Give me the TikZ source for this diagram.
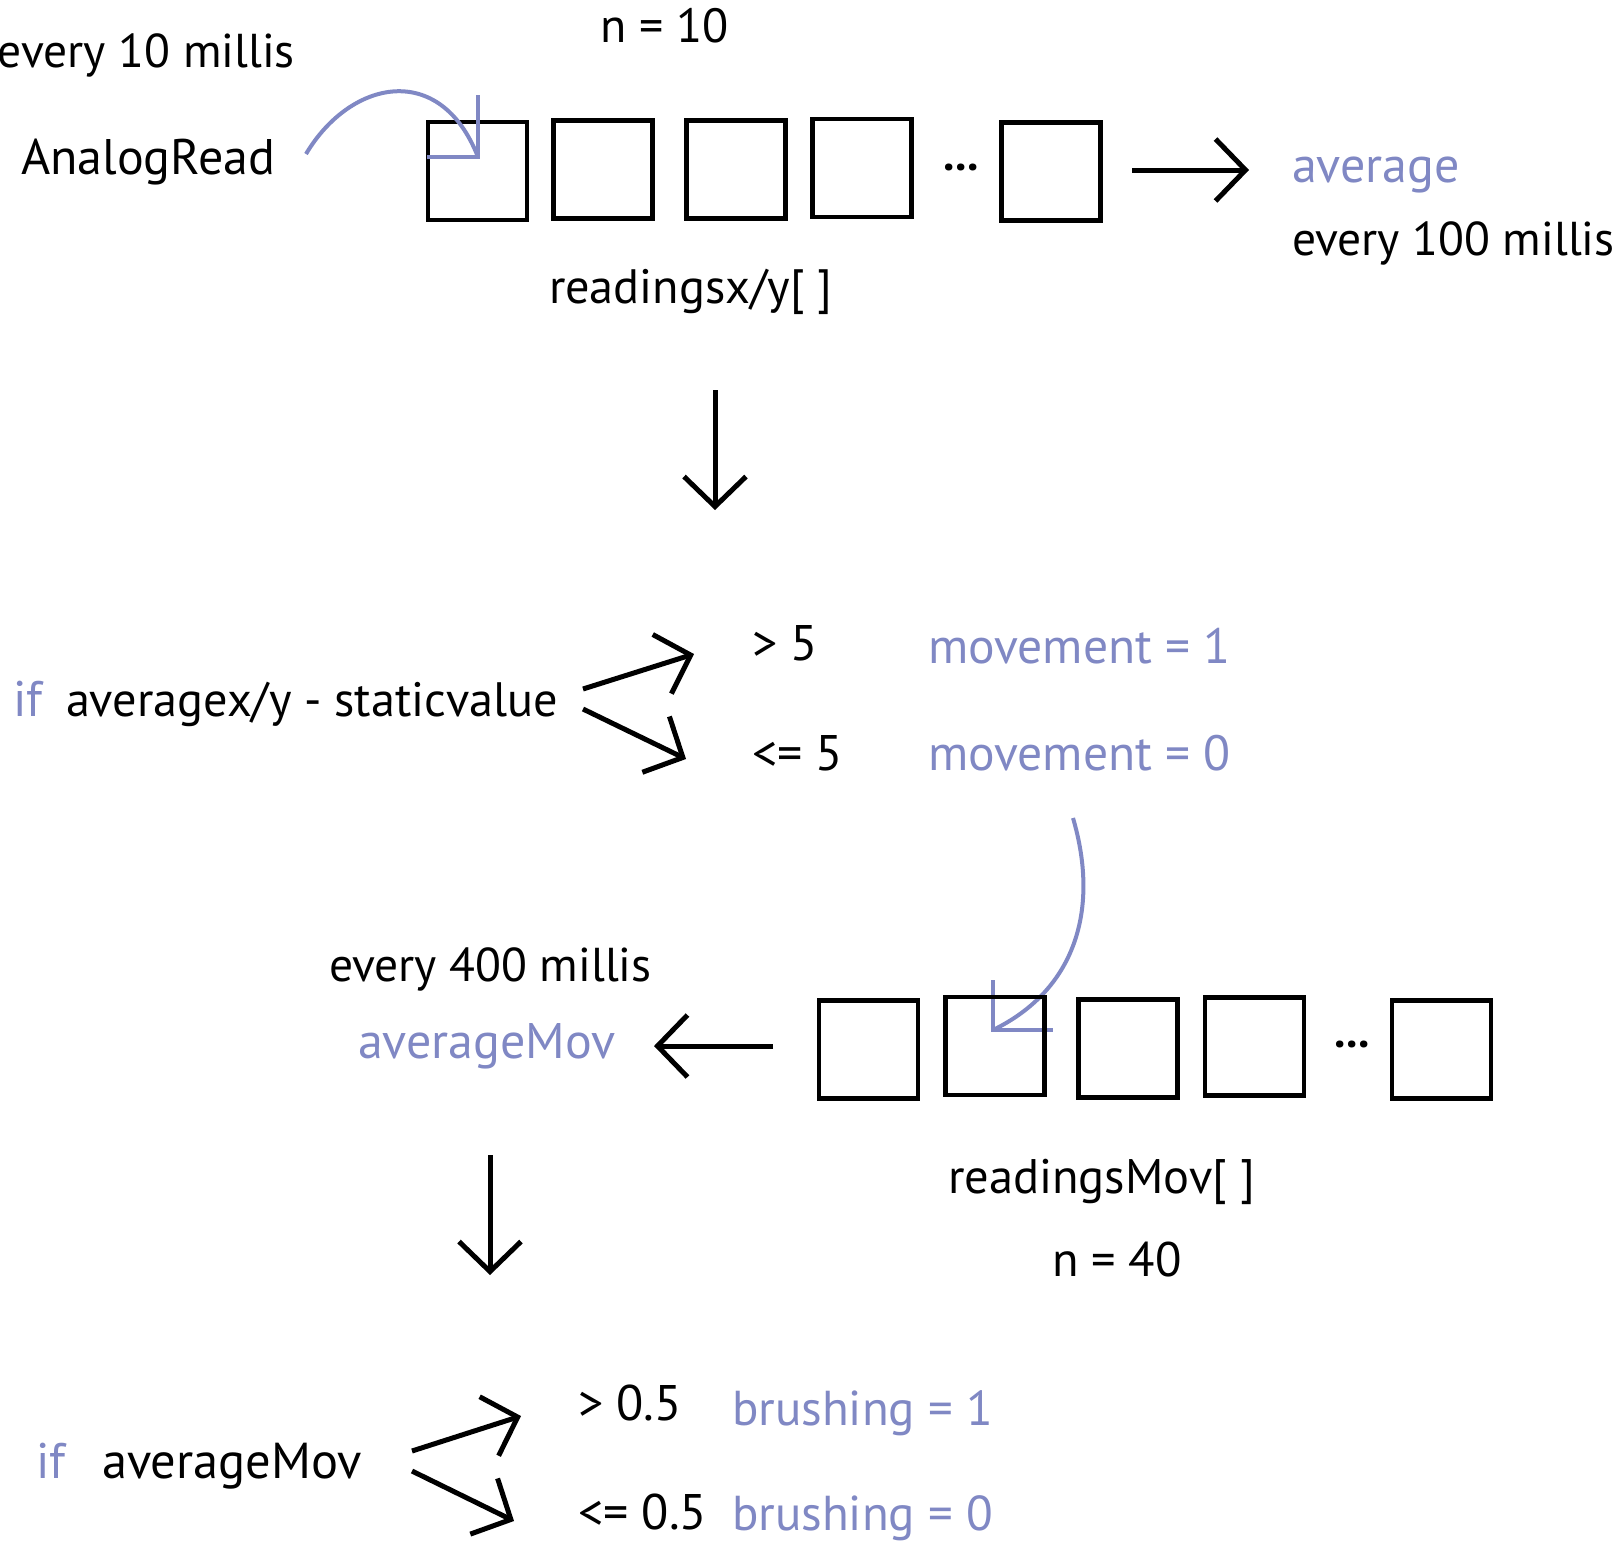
\documentclass[tikz,border=0pt]{standalone}
\usepackage{fontspec}
\setmainfont{PT Sans}
\usetikzlibrary{arrows.meta}
\definecolor{lav}{RGB}{128,136,196}
\begin{document}
\begin{tikzpicture}[x=1pt,y=-1pt,
  lbl/.style={anchor=base west,inner sep=0pt,outer sep=0pt,font=\fontsize{#1}{60}\selectfont},
  lbl/.default=50,
  blbl/.style={lbl=#1,text=lav},
  blbl/.default=50,
  cell/.style={draw,line width=4.5pt,minimum width=99pt,minimum height=98pt,inner sep=0pt},
  dotsnode/.style={inner sep=0pt,font=\fontsize{46}{50}\selectfont\bfseries},
  arr/.style={line width=5pt,-{Straight Barb[length=30pt,width=62pt]}},
  barr/.style={draw=lav,line width=4pt}
]
\fill[white] (0,0) rectangle (1613,1545);
\useasboundingbox (0,0) rectangle (1613,1545);

% ---- top row ----
\node[lbl=47.5] (every10) at (-2,67) {every 10 millis};
\node[lbl=48] (n10) at (600,42) {n = 10};
\node[lbl] (analog) at (21,174) {AnalogRead};
\node[lbl=48.3] (rxy) at (549,303) {readingsx/y[ ]};
\node[blbl] (avg) at (1292,182) {average};
\node[lbl=47.5] (every100) at (1292,255) {every 100 millis};

\node[cell] (a1) at (477.5,171) {};
\node[cell] (a2) at (603,169.5) {};
\node[cell] (a3) at (736,169.5) {};
\node[cell] (a4) at (862,168) {};
\node[dotsnode] (adots) at (961,167) {...};
\node[cell] (a5) at (1051,171.5) {};

\coordinate (c1s) at (306,154);
\coordinate (c1t) at (478,157);
\draw[barr] (c1s) .. controls (350,80) and (440,60) .. (c1t);
\draw[barr,miter limit=10] (c1t) ++(0,-62) -- (c1t) -- ++(-51,0);

\coordinate (r1s) at (1132,170);
\coordinate (r1e) at (1249,170);
\draw[arr] (r1s) -- (r1e);

\coordinate (d1s) at (715,390);
\coordinate (d1e) at (715,510);
\draw[arr] (d1s) -- (d1e);

% ---- middle ----
\node[blbl] (if1) at (13,716) {if};
\node[lbl=48.3] (cond1) at (66,716) {averagex/y - staticvalue};
\node[lbl] (gt5) at (752,660) {> 5};
\node[lbl] (le5) at (752,770) {<= 5};
\node[blbl=49.6] (mov1) at (928,663) {movement = 1};
\node[blbl=49.6] (mov0) at (928,770) {movement = 0};

\coordinate (u1s) at (583,689);
\coordinate (u1e) at (694,654);
\coordinate (l1s) at (583,709);
\coordinate (l1e) at (686,759);
\draw[arr] (u1s) -- (u1e);
\draw[arr] (l1s) -- (l1e);

\coordinate (c2s) at (1073,818);
\coordinate (c2t) at (993,1030);
\draw[barr] (c2s) .. controls (1100,910) and (1075,990) .. (c2t);
\draw[barr,miter limit=10] (c2t) ++(0,-50) -- (c2t) -- ++(60,0);

% ---- second array ----
\node[cell] (b1) at (868.5,1049.5) {};
\node[cell] (b2) at (995,1046) {};
\node[cell] (b3) at (1128,1048.5) {};
\node[cell] (b4) at (1254.5,1046.5) {};
\node[dotsnode] (bdots) at (1352,1044) {...};
\node[cell] (b5) at (1441.5,1049.5) {};

\node[lbl=47.5] (every400) at (329,981) {every 400 millis};
\node[blbl] (avgmov) at (358,1058) {averageMov};
\node[lbl=48.5] (rmov) at (948,1193) {readingsMov[ ]};
\node[lbl=48.5] (n40) at (1052,1276) {n = 40};

\coordinate (lfs) at (773,1046);
\coordinate (lfe) at (654,1046);
\draw[arr] (lfs) -- (lfe);

\coordinate (d2s) at (490,1155);
\coordinate (d2e) at (490,1275);
\draw[arr] (d2s) -- (d2e);

% ---- bottom ----
\node[blbl] (if2) at (36,1478) {if};
\node[lbl=50.5] (cond2) at (102,1478) {averageMov};
\node[lbl] (gt05) at (578,1420) {> 0.5};
\node[lbl] (le05) at (578,1529) {<= 0.5};
\node[blbl=49] (br1) at (732,1425) {brushing = 1};
\node[blbl=49] (br0) at (732,1530) {brushing = 0};

\coordinate (u2s) at (412,1451);
\coordinate (u2e) at (521,1416);
\coordinate (l2s) at (412,1471);
\coordinate (l2e) at (514,1521);
\draw[arr] (u2s) -- (u2e);
\draw[arr] (l2s) -- (l2e);
\end{tikzpicture}
\end{document}
